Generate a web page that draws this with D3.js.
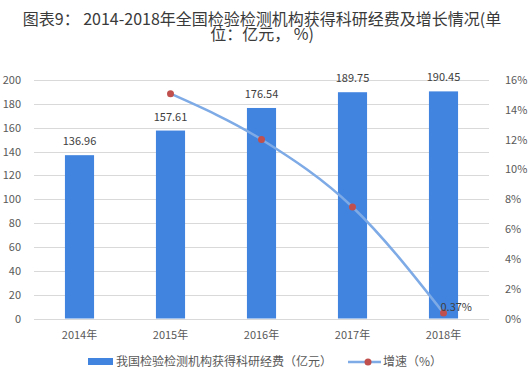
<!DOCTYPE html>
<html>
<head>
<meta charset="utf-8">
<script src="https://cdn.jsdelivr.net/npm/d3@7"></script>
<style>
  body { margin: 0; background: #fff; }
  text { font-family: "Noto Sans CJK SC", "Noto Sans", sans-serif; }
</style>
</head>
<body>
<div id="chart"></div>
<script>
// data
const years = ["2014年", "2015年", "2016年", "2017年", "2018年"];
const funds = [136.96, 157.61, 176.54, 189.75, 190.45];
const growth = [null, 15.08, 12.01, 7.48, 0.37];
const leftTicks = [0, 20, 40, 60, 80, 100, 120, 140, 160, 180, 200];
const rightTicks = [0, 2, 4, 6, 8, 10, 12, 14, 16];

const W = 528, H = 377;
const margin = { top: 80, right: 39, bottom: 58, left: 34 };

const svg = d3.select("#chart").append("svg")
  .attr("width", W).attr("height", H);

// title (two lines, like the original wrap)
const title = svg.append("text")
  .attr("text-anchor", "middle")
  .attr("fill", "#3a3a3a")
  .style("font-size", "16px");
title.append("tspan").attr("x", 262).attr("y", 25)
  .text("图表9： 2014-2018年全国检验检测机构获得科研经费及增长情况(单");
title.append("tspan").attr("x", 262).attr("y", 40)
  .text("位：亿元， %)");

const x = d3.scaleBand()
  .domain(years)
  .range([margin.left, W - margin.right])
  .paddingInner(0.68).paddingOuter(0.34);

const y = d3.scaleLinear().domain([0, 200]).range([H - margin.bottom - 0.5, margin.top]);
const y2 = d3.scaleLinear().domain([0, 16]).range([H - margin.bottom - 0.5, margin.top]);

// gridlines
svg.append("g")
  .selectAll("line")
  .data(leftTicks)
  .enter().append("line")
  .attr("x1", margin.left).attr("x2", W - margin.right)
  .attr("y1", d => Math.round(y(d)) + 0.5)
  .attr("y2", d => Math.round(y(d)) + 0.5)
  .attr("stroke", "#d9d9d9");

// left axis
const leftAxis = svg.append("g")
  .attr("transform", `translate(${margin.left},0)`)
  .call(d3.axisLeft(y).tickValues(leftTicks).tickSize(0).tickPadding(13));
leftAxis.select(".domain").remove();

// right axis
const rightAxis = svg.append("g")
  .attr("transform", `translate(${W - margin.right},0)`)
  .call(d3.axisRight(y2).tickValues(rightTicks).tickSize(0).tickPadding(16)
    .tickFormat(d => d + "%"));
rightAxis.select(".domain").remove();

// bottom axis
const bottomAxis = svg.append("g")
  .attr("transform", `translate(0,${H - margin.bottom})`)
  .call(d3.axisBottom(x).tickSize(0).tickPadding(12));
bottomAxis.select(".domain").remove();

svg.selectAll(".tick text")
  .attr("fill", "#595959")
  .style("font-size", "11px")
  .style("font-family", "'Noto Sans CJK SC', sans-serif");

// bars
svg.append("g")
  .selectAll("rect")
  .data(funds)
  .enter().append("rect")
  .attr("x", (d, i) => x(years[i]))
  .attr("width", x.bandwidth())
  .attr("y", d => y(d))
  .attr("height", d => y(0) - y(d))
  .attr("fill", "#4184E0");

// bar labels
svg.append("g")
  .selectAll("text")
  .data(funds)
  .enter().append("text")
  .attr("x", (d, i) => x(years[i]) + x.bandwidth() / 2)
  .attr("y", d => y(d) - 10)
  .attr("text-anchor", "middle")
  .attr("fill", "#404040")
  .style("font-size", "11px")
  .text(d => d.toFixed(2));

// growth line
const pts = growth.map((g, i) => ({ year: years[i], g: g })).filter(d => d.g !== null);
const line = d3.line()
  .x(d => x(d.year) + x.bandwidth() / 2)
  .y(d => y2(d.g))
  .curve(d3.curveMonotoneX);

svg.append("path")
  .datum(pts)
  .attr("fill", "none")
  .attr("stroke", "#7EAAE6")
  .attr("stroke-width", 2.5)
  .attr("d", line);

svg.append("g")
  .selectAll("circle")
  .data(pts)
  .enter().append("circle")
  .attr("cx", d => x(d.year) + x.bandwidth() / 2)
  .attr("cy", d => y2(d.g))
  .attr("r", 3.5)
  .attr("fill", "#C0504D");

// last growth label
const last = pts[pts.length - 1];
svg.append("text")
  .attr("x", x(last.year) + x.bandwidth() / 2 - 3)
  .attr("y", y2(last.g) - 2)
  .attr("fill", "#404040")
  .style("font-size", "11px")
  .text(last.g + "%");

// legend
const lg = svg.append("g").attr("transform", `translate(0,${H - 15})`);
lg.append("rect")
  .attr("x", 88).attr("y", -4).attr("width", 25).attr("height", 7)
  .attr("fill", "#4184E0");
lg.append("text")
  .attr("x", 116).attr("y", 4)
  .attr("fill", "#595959")
  .style("font-size", "12px")
  .text("我国检验检测机构获得科研经费（亿元）");
lg.append("line")
  .attr("x1", 348).attr("x2", 381).attr("y1", 0).attr("y2", 0)
  .attr("stroke", "#7EAAE6").attr("stroke-width", 2.5);
lg.append("circle")
  .attr("cx", 368).attr("cy", 0).attr("r", 3.5)
  .attr("fill", "#C0504D");
lg.append("text")
  .attr("x", 383).attr("y", 4)
  .attr("fill", "#595959")
  .style("font-size", "12px")
  .text("增速（%）");
</script>
</body>
</html>
